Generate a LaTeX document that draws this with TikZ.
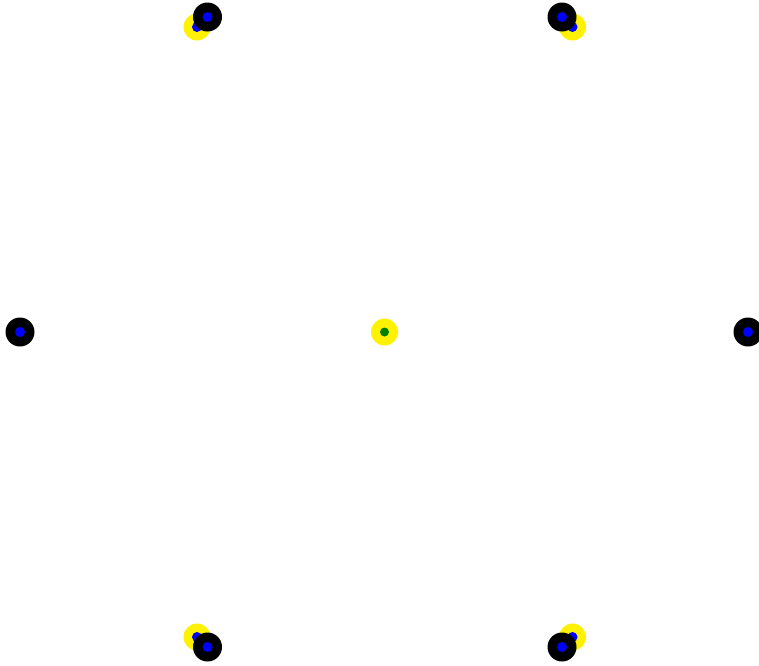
\documentclass[tikz,border=0pt]{standalone}
\usetikzlibrary{shapes.geometric}
\definecolor{dotgreen}{RGB}{0,128,0}
\tikzset{
  ydisc/.style={circle,fill=yellow,draw=none,minimum size=27pt,inner sep=0pt},
  kdisc/.style={circle,fill=black,draw=none,minimum size=29pt,inner sep=0pt},
  bdot/.style={circle,fill=blue,draw=none,minimum size=10pt,inner sep=0pt},
  gdot/.style={circle,fill=dotgreen,draw=none,minimum size=9pt,inner sep=0pt}
}
\begin{document}
\begin{tikzpicture}[x=1pt,y=-1pt]
\useasboundingbox (0,0) rectangle (759,665);
\clip (0,0) rectangle (759,665);
% centre
\node[ydisc] (c) at (384.5,332) {};
\node[gdot] (cg) at (c.center) {};
% yellow discs with blue dots
\node[ydisc] (y1) at (197,27) {};
\node[bdot] (y1b) at (y1.center) {};
\node[ydisc] (y2) at (572.5,27) {};
\node[bdot] (y2b) at (y2.center) {};
\node[ydisc] (y3) at (197,637) {};
\node[bdot] (y3b) at (y3.center) {};
\node[ydisc] (y4) at (572.5,637) {};
\node[bdot] (y4b) at (y4.center) {};
% black discs with blue dots
\node[kdisc] (k1) at (207.5,17) {};
\node[bdot] (k1b) at (k1.center) {};
\node[kdisc] (k2) at (562,17) {};
\node[bdot] (k2b) at (k2.center) {};
\node[kdisc] (k3) at (20,332) {};
\node[bdot] (k3b) at (k3.center) {};
\node[kdisc] (k4) at (748,332) {};
\node[bdot] (k4b) at (k4.center) {};
\node[kdisc] (k5) at (207.5,647) {};
\node[bdot] (k5b) at (k5.center) {};
\node[kdisc] (k6) at (562,647) {};
\node[bdot] (k6b) at (k6.center) {};
\end{tikzpicture}
\end{document}
